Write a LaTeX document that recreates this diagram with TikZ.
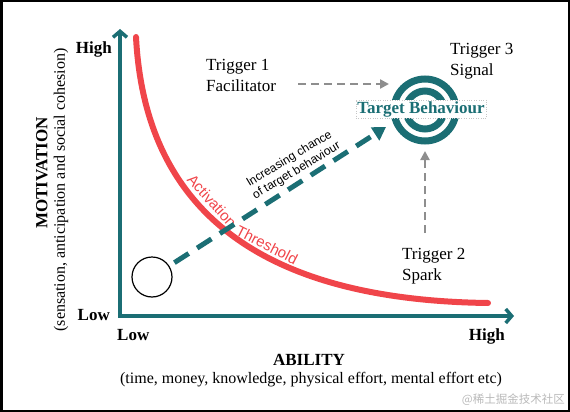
\documentclass[tikz,border=0pt]{standalone}
\usepackage{fontspec}
\setmainfont{Liberation Serif}
\newfontfamily\arialf{Liberation Sans}
\newfontfamily\cjkf{Noto Sans CJK SC}
\usetikzlibrary{arrows.meta}
\definecolor{tealc}{HTML}{1B6E74}
\definecolor{redc}{HTML}{F0454A}
\definecolor{grayc}{HTML}{8E8E8E}
\begin{document}
\begin{tikzpicture}[x=1pt,y=-1pt,
  axis/.style={draw=tealc,line width=4.5pt,line cap=rect,-{Straight Barb[length=6pt,width=14pt,line width=3.5pt]}},
  axlab/.style={inner sep=0pt,font=\bfseries\fontsize{17}{20}\selectfont},
  subt/.style={inner sep=0pt,font=\fontsize{16}{19}\selectfont},
  trig/.style={inner sep=0pt,align=left,anchor=north west,font=\fontsize{17}{21}\selectfont},
  ring/.style={draw=tealc,line width=7pt},
  gdash/.style={draw=grayc,line width=2.5pt,dash pattern=on 8pt off 5pt,-{Triangle[length=9pt,width=9pt]},grayc},
  tdash/.style={draw=tealc,line width=5pt,dash pattern=on 17pt off 10pt,-{Triangle[length=13pt,width=15pt]},tealc},
  redcurve/.style={draw=redc,line width=6pt,line cap=round},
  thrlab/.style={inner sep=0pt,text=redc,font=\arialf\fontsize{15}{18}\selectfont}]
\useasboundingbox (0,0) rectangle (570,412);
\draw[black,line width=2.5pt] (1.25,1.25) rectangle (568.75,410.75);

% axes
\coordinate (O) at (120,316);
\coordinate (ytop) at (120,29);
\coordinate (xend) at (514,316);
\draw[axis] (O) -- (ytop);
\draw[axis] (O) -- (xend);

% axis labels
\node[axlab,anchor=base east] (yhigh) at (112,53) {High};
\node[axlab,anchor=base east] (ylow) at (110,320) {Low};
\node[axlab,anchor=base west] (xlow) at (117,340) {Low};
\node[axlab,anchor=base east] (xhigh) at (505,340) {High};
\node[axlab,anchor=base] (abil) at (309,365) {ABILITY};
\node[subt,anchor=base] (abilsub) at (311,383) {(time, money, knowledge, physical effort, mental effort etc)};
\node[axlab,rotate=90] (motiv) at (42,173) {MOTIVATION};
\node[subt,rotate=90] (motivsub) at (61,190) {(sensation, anticipation and social cohesion)};

% red threshold curve
\coordinate (r0) at (136,37);
\coordinate (r1) at (488,303);
\draw[redcurve] (r0) .. controls (145,210) and (260,300) .. (r1);
\node[thrlab,rotate=-48] (thr1) at (212,201) {Activation};
\node[thrlab,rotate=-27] (thr2) at (267,245) {Threshold};

% target
\coordinate (tc) at (425,110);
\draw[ring] (tc) circle[radius=31pt];
\draw[ring] (tc) circle[radius=19pt];
\node[fill=white,draw=gray!45,dotted,inner sep=1.5pt,text=tealc,
      font=\bfseries\fontsize{17}{20}\selectfont] (tb) at (421,109) {Target Behaviour};

% triggers
\node[trig] (t1) at (206,59.5) {Trigger 1\\Facilitator};
\node[trig] (t3) at (450,43.5) {Trigger 3\\Signal};
\node[trig] (t2) at (402,248.5) {Trigger 2\\Spark};
\coordinate (a1s) at (298,84);
\coordinate (a1e) at (389,84);
\draw[gdash] (a1s) -- (a1e);
\coordinate (a2s) at (425,233);
\coordinate (a2e) at (425,151);
\draw[gdash] (a2s) -- (a2e);

% start circle and chance arrow
\node[draw=black,line width=1.2pt,circle,minimum size=40pt,inner sep=0pt] (c0) at (152,277) {};
\coordinate (tip) at (386,127);
\draw[tdash,shorten <=6pt] (c0) -- (tip);
\node[rotate=31,align=center,inner sep=0pt,font=\arialf\fontsize{12}{14}\selectfont] (inc) at (293,165)
  {Increasing chance\\of target behaviour};

% watermark
\node[anchor=base east,inner sep=0pt,text=gray!55,font=\cjkf\fontsize{11.5}{13}\selectfont] (wm) at (565,403) {@稀土掘金技术社区};
\end{tikzpicture}
\end{document}
